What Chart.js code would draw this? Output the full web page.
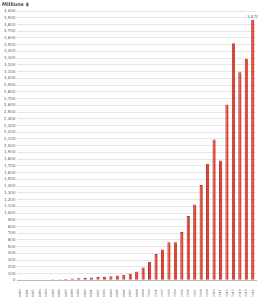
<!DOCTYPE html>
<html>
<head>
<meta charset="utf-8">
<script src="https://cdn.jsdelivr.net/npm/chart.js@4.4.1/dist/chart.umd.min.js"></script>
<style>
  html, body { margin: 0; padding: 0; background: #fff; }
  #wrap { width: 258px; height: 299px; }
</style>
</head>
<body>
<div id="wrap"><canvas id="grafico"></canvas></div>
<script>
// años y valores (millones)
const anios = ['1980','1981','1982','1983','1984','1985','1986','1987','1988','1989',
  '1990','1991','1992','1993','1994','1995','1996','1997','1998','1999',
  '2000','2001','2002','2003','2004','2005','2006','2007','2008','2009',
  '2010','2011','2012','2013','2014','2015','2016'];
const valores = [4, 5, 7, 9, 12, 15, 18, 22, 27, 30,
  36, 43, 50, 55, 60, 72, 85, 100, 130, 190,
  275, 390, 460, 565, 565, 720, 955, 1125, 1415, 1730,
  2090, 1780, 2610, 3520, 3090, 3290, 3870];
const tituloEje = 'Millions $';

const etiquetaFinal = {
  id: 'etiquetaFinal',
  afterDatasetsDraw(chart) {
    const meta = chart.getDatasetMeta(0);
    const ultimo = meta.data[meta.data.length - 1];
    const ctx = chart.ctx;
    ctx.save();
    ctx.font = '4px "DejaVu Sans"';
    ctx.fillStyle = '#777';
    ctx.textAlign = 'center';
    ctx.textBaseline = 'bottom';
    ctx.fillText(valores[valores.length - 1].toLocaleString('en-US'), ultimo.x, ultimo.y - 1);
    ctx.restore();
  }
};

new Chart(document.getElementById('grafico'), {
  type: 'bar',
  data: {
    labels: anios,
    datasets: [{
      data: valores,
      backgroundColor: '#e2412f',
      borderColor: '#9a3a3a',
      borderWidth: { left: 1, top: 1, right: 0, bottom: 0 },
      barPercentage: 0.5,
      categoryPercentage: 1
    }]
  },
  options: {
    responsive: true,
    maintainAspectRatio: false,
    animation: false,
    layout: { padding: { left: 2, right: 2, top: 0, bottom: 1 } },
    plugins: {
      legend: { display: false },
      tooltip: { enabled: false },
      title: {
        display: true,
        text: tituloEje,
        align: 'start',
        color: '#444',
        font: { size: 5, family: 'DejaVu Sans', weight: 'bold' },
        padding: { top: 2, bottom: 3 }
      }
    },
    scales: {
      x: {
        grid: { display: false },
        border: { color: '#bbb' },
        ticks: {
          color: '#666',
          font: { size: 3, family: 'DejaVu Sans' },
          maxRotation: 90,
          minRotation: 90,
          autoSkip: false,
          padding: 1
        }
      },
      y: {
        min: 0,
        max: 4000,
        grid: { color: '#e6e6e6', drawTicks: false },
        border: { display: false },
        ticks: {
          stepSize: 100,
          color: '#666',
          font: { size: 4, family: 'DejaVu Sans' },
          padding: 2,
          autoSkip: false
        }
      }
    }
  },
  plugins: [etiquetaFinal]
});
</script>
</body>
</html>
